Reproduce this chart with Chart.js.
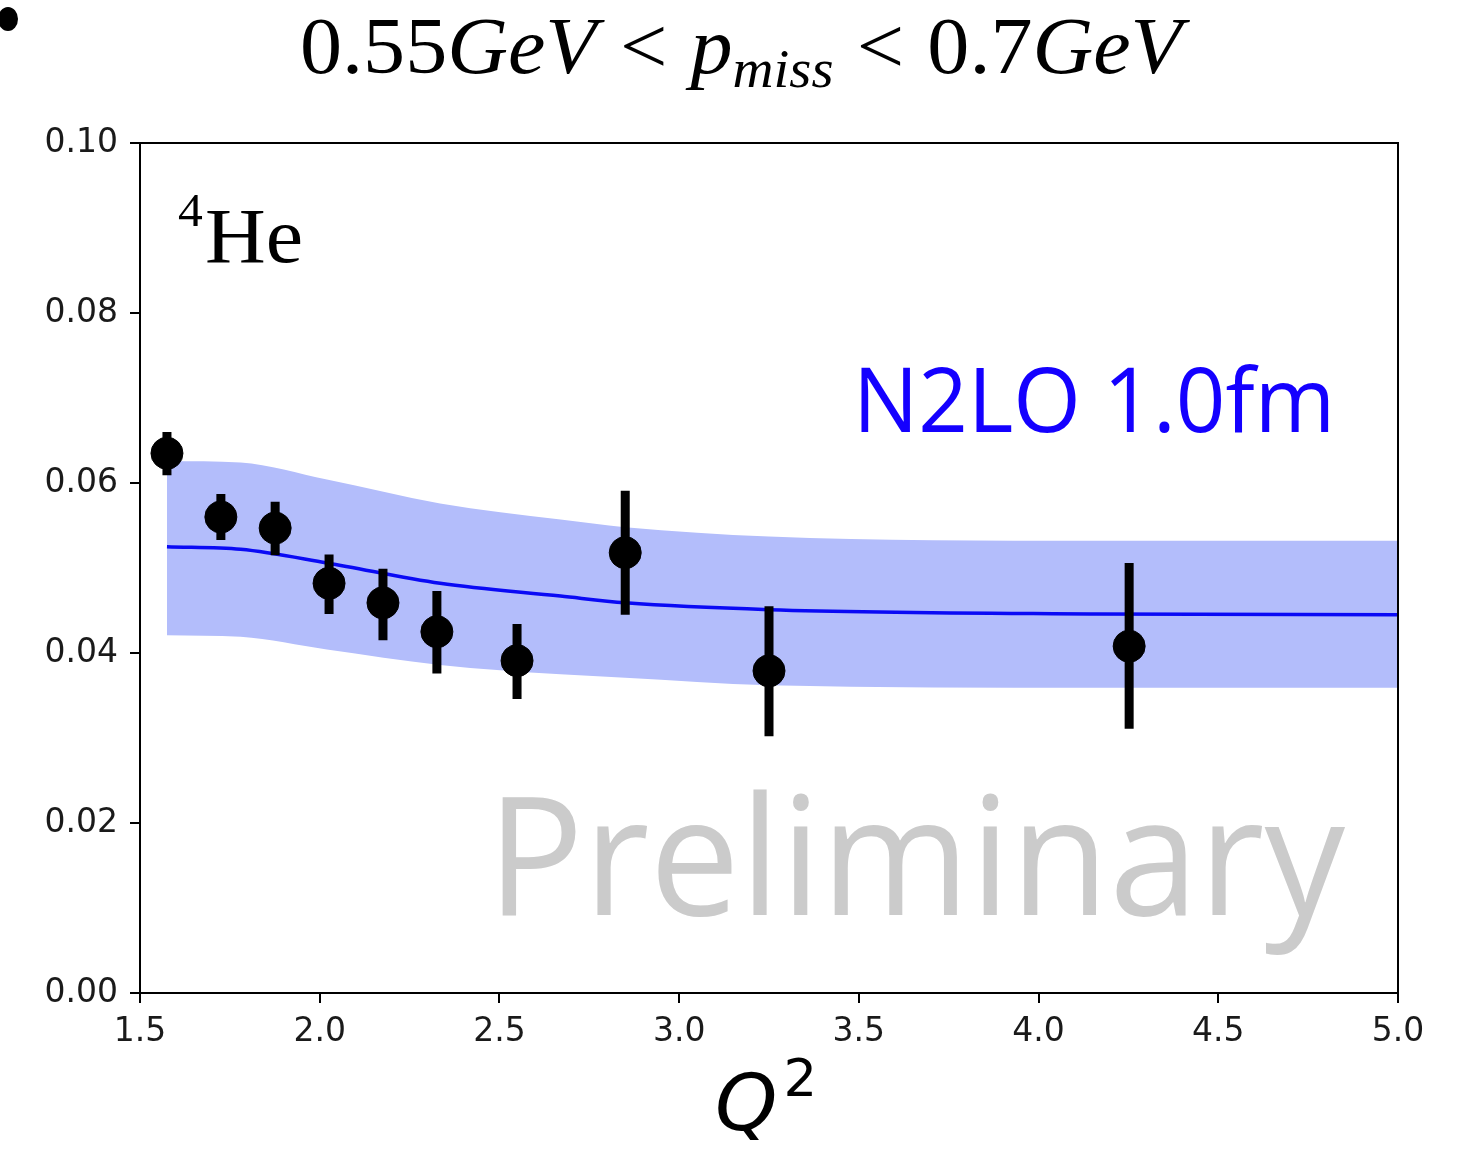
<!DOCTYPE html>
<html>
<head>
<meta charset="utf-8">
<script src="https://cdn.jsdelivr.net/npm/chart.js@4/dist/chart.umd.min.js"></script>
<style>
html,body{margin:0;padding:0;background:#fff;}
canvas{display:block;}
</style>
</head>
<body>
<canvas id="c" width="1465" height="1151"></canvas>
<script>
// ---- data ----
const q2Points = [1.575, 1.725, 1.876, 2.026, 2.176, 2.326, 2.549, 2.85, 3.25, 4.252];
const ratioValues = [0.0635, 0.0560, 0.0547, 0.0482, 0.0459, 0.0425, 0.0391, 0.0518, 0.0379, 0.0408];
const ratioErrLow = [0.0609, 0.0533, 0.0515, 0.0446, 0.0415, 0.0376, 0.0346, 0.0445, 0.0302, 0.0311];
const ratioErrHigh = [0.0660, 0.0587, 0.0578, 0.0516, 0.0499, 0.0473, 0.0434, 0.0591, 0.0455, 0.0506];

const theoryQ2 = [1.575, 1.78, 2.02, 2.335, 2.67, 2.85, 3.25, 4.16, 5.0];
const theoryCentral = [0.0525, 0.0522, 0.0506, 0.0482, 0.0467, 0.0459, 0.0451, 0.0446, 0.0445];
const theoryUpper = [0.0626, 0.0624, 0.0604, 0.0576, 0.0557, 0.0548, 0.0537, 0.0532, 0.0532];
const theoryLower = [0.0421, 0.0419, 0.0404, 0.0386, 0.0375, 0.0371, 0.0362, 0.0359, 0.0359];

const xTicks = [1.5, 2.0, 2.5, 3.0, 3.5, 4.0, 4.5, 5.0];
const yTicks = [0.00, 0.02, 0.04, 0.06, 0.08, 0.10];

const titleParts = ["0.55", "GeV", "<", "p", "miss", "<", "0.7", "GeV"];
const nucleusLabel = ["4", "He"];
const modelLabel = "N2LO 1.0fm";
const watermark = "Preliminary";
const xAxisLabel = ["Q", "2"];

// ---- derived datasets ----
const pts = q2Points.map((x, i) => ({x: x, y: ratioValues[i]}));
const errSegs = [];
q2Points.forEach((x, i) => {
  errSegs.push({x: x, y: ratioErrLow[i]});
  errSegs.push({x: x, y: ratioErrHigh[i]});
  errSegs.push({x: x, y: null});
});
const mk = arr => theoryQ2.map((x, i) => ({x: x, y: arr[i]}));

function fitText(ctx, pieces, x0, x1, baseline) {
  let total = 0;
  pieces.forEach(p => { ctx.font = p.font; p.w = ctx.measureText(p.t).width; total += p.w + (p.gap || 0); });
  const sx = (x1 - x0) / total;
  ctx.save();
  ctx.translate(x0, baseline);
  ctx.scale(sx, 1);
  let cx = 0;
  pieces.forEach(p => {
    ctx.font = p.font;
    ctx.fillStyle = p.color || '#000';
    ctx.textBaseline = 'alphabetic';
    ctx.textAlign = 'left';
    ctx.fillText(p.t, cx, p.dy || 0);
    cx += p.w + (p.gap || 0);
  });
  ctx.restore();
}

const decor = {
  id: 'decor',
  beforeDatasetsDraw(chart) {
    const ctx = chart.ctx;
    fitText(ctx, [{t: watermark, font: '165px "Open Sans"', color: '#cbcbcb'}], 487, 1345, 915);
  },
  afterDraw(chart) {
    const ctx = chart.ctx;
    const a = chart.chartArea;
    ctx.save();
    ctx.strokeStyle = '#000';
    ctx.lineWidth = 2;
    ctx.strokeRect(a.left, a.top, a.right - a.left, a.bottom - a.top);
    ctx.restore();

    ctx.save();
    ctx.fillStyle = '#000';
    ctx.beginPath();
    ctx.ellipse(8, 19, 10, 12, 0, 0, Math.PI * 2);
    ctx.fill();
    ctx.restore();

    const up = '80px "Liberation Serif"';
    const it = 'italic 80px "Liberation Serif"';
    const sub = 'italic 54px "Liberation Serif"';
    fitText(ctx, [
      {t: titleParts[0], font: up},
      {t: titleParts[1], font: it, gap: 22},
      {t: titleParts[2], font: up, gap: 22},
      {t: titleParts[3], font: it},
      {t: titleParts[4], font: sub, dy: 14, gap: 22},
      {t: titleParts[5], font: up, gap: 22},
      {t: titleParts[6], font: up},
      {t: titleParts[7], font: it}
    ], 300, 1182, 73);

    fitText(ctx, [
      {t: nucleusLabel[0], font: '46px "Liberation Serif"', dy: -36, gap: 2},
      {t: nucleusLabel[1], font: '78px "Liberation Serif"'}
    ], 178, 303, 262);

    fitText(ctx, [{t: modelLabel, font: '90px "Open Sans"', color: '#1400ff'}], 853, 1335, 432);

    fitText(ctx, [
      {t: xAxisLabel[0], font: 'italic 78px "DejaVu Sans"', gap: 6},
      {t: xAxisLabel[1], font: '52px "DejaVu Sans"', dy: -34}
    ], 715, 817, 1130);
  }
};

new Chart(document.getElementById('c'), {
  type: 'scatter',
  data: {
    datasets: [
      {label: 'data', data: pts, order: 0, showLine: false, pointRadius: 16, pointHoverRadius: 16,
       backgroundColor: '#000', borderColor: '#000', borderWidth: 1},
      {label: 'err', data: errSegs, order: 1, showLine: true, spanGaps: false, pointRadius: 0,
       borderColor: '#000', borderWidth: 9, borderCapStyle: 'butt'},
      {label: 'theory', data: mk(theoryCentral), order: 2, showLine: true, pointRadius: 0,
       borderColor: '#0a0af5', borderWidth: 3.5, cubicInterpolationMode: 'monotone'},
      {label: 'upper', data: mk(theoryUpper), order: 3, showLine: true, pointRadius: 0,
       borderWidth: 0, borderColor: 'rgba(0,0,0,0)', backgroundColor: '#b3bdfb', fill: '+1',
       cubicInterpolationMode: 'monotone'},
      {label: 'lower', data: mk(theoryLower), order: 4, showLine: true, pointRadius: 0,
       borderWidth: 0, borderColor: 'rgba(0,0,0,0)', fill: false, cubicInterpolationMode: 'monotone'}
    ]
  },
  options: {
    responsive: false,
    devicePixelRatio: 1,
    animation: false,
    layout: {padding: {left: 0, right: 67, top: 143, bottom: 0}},
    plugins: {legend: {display: false}, tooltip: {enabled: false}, title: {display: false}},
    scales: {
      x: {
        type: 'linear', min: 1.5, max: 5.0,
        afterFit(s) { s.height = 158; },
        afterBuildTicks(s) { s.ticks = xTicks.map(v => ({value: v})); },
        grid: {drawOnChartArea: false, drawTicks: true, tickLength: 10, color: '#000', lineWidth: 2},
        border: {display: true, color: '#000', width: 2},
        ticks: {color: '#1a1a1a', font: {family: '"DejaVu Sans"', size: 33}, padding: 10,
                maxRotation: 0, callback: v => Number(v).toFixed(1)}
      },
      y: {
        type: 'linear', min: 0, max: 0.1,
        afterFit(s) { s.width = 140; },
        afterBuildTicks(s) { s.ticks = yTicks.map(v => ({value: v})); },
        grid: {drawOnChartArea: false, drawTicks: true, tickLength: 10, color: '#000', lineWidth: 2},
        border: {display: true, color: '#000', width: 2},
        ticks: {color: '#1a1a1a', font: {family: '"DejaVu Sans"', size: 33}, padding: 12,
                callback: v => Number(v).toFixed(2)}
      }
    }
  },
  plugins: [decor]
});
</script>
</body>
</html>
